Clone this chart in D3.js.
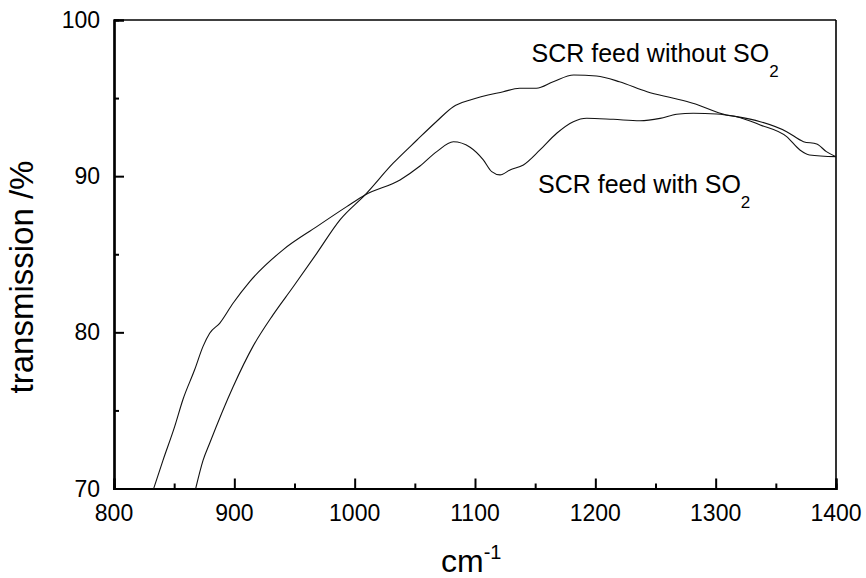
<!DOCTYPE html>
<html>
<head>
<meta charset="utf-8">
<script src="https://cdn.jsdelivr.net/npm/d3@7/dist/d3.min.js"></script>
<style>
  html, body { margin: 0; padding: 0; background: #fff; }
  svg { display: block; font-family: "Liberation Sans", Arial, Helvetica, sans-serif; }
</style>
</head>
<body>
<svg id="chart" width="866" height="578"></svg>
<script>
// IR transmission spectra (wavenumber in cm^-1, transmission in %)
const wavenumberNoSO2 = [867.9, 874, 879.5, 898.9, 915.5, 932, 948.8, 968.5, 987.8, 1008.6, 1032, 1051.6, 1068, 1082, 1096, 1123.5, 1137, 1151, 1165, 1182, 1201, 1220, 1243, 1265, 1281, 1309, 1317.5, 1337, 1359, 1370, 1378, 1400];
const transmissionNoSO2 = [70.0, 71.8, 72.9, 76.5, 79.1, 81.1, 82.9, 85.06, 87.2, 88.8, 90.83, 92.3, 93.5, 94.45, 94.88, 95.41, 95.63, 95.63, 96.05, 96.48, 96.41, 96.05, 95.41, 94.99, 94.67, 93.92, 93.81, 93.28, 92.53, 91.68, 91.36, 91.25];

const wavenumberSO2 = [833, 840.7, 850.4, 857.3, 867, 874, 879.5, 887.8, 898.9, 912.8, 940.7, 968.5, 993.4, 1008.6, 1037.7, 1054.3, 1068.2, 1082, 1095.9, 1106.9, 1113.9, 1120.8, 1129.1, 1140.2, 1154, 1167.9, 1181.7, 1192.8, 1215, 1237.1, 1253.8, 1267.6, 1281.4, 1300.8, 1317.5, 1337, 1359, 1373, 1384, 1392, 1400];
const transmissionSO2 = [70.0, 71.8, 73.96, 75.7, 77.6, 79.1, 79.94, 80.58, 81.86, 83.25, 85.3, 86.77, 88.05, 88.8, 89.76, 90.65, 91.57, 92.2, 91.85, 91.04, 90.29, 90.08, 90.4, 90.72, 91.68, 92.75, 93.49, 93.71, 93.64, 93.55, 93.7, 93.96, 94.03, 93.98, 93.81, 93.49, 92.85, 92.21, 92.06, 91.57, 91.25];

const xMajorTicks = [800, 900, 1000, 1100, 1200, 1300, 1400];
const xMinorTicks = [850, 950, 1050, 1150, 1250, 1350];
const yMajorTicks = [70, 80, 90, 100];
const yMinorTicks = [75, 85, 95];

const svg = d3.select("#chart");
const plotLeft = 114, plotRight = 836, plotTop = 20, plotBottom = 488.5;

const x = d3.scaleLinear().domain([800, 1400]).range([plotLeft, plotRight]);
const y = d3.scaleLinear().domain([70, 100]).range([plotBottom, plotTop]);

// frame: heavy left/bottom axes, thinner top/right border
svg.append("line").attr("x1", plotLeft).attr("x2", plotRight).attr("y1", plotTop).attr("y2", plotTop)
  .attr("stroke", "#000").attr("stroke-width", 1.6);
svg.append("line").attr("x1", plotRight).attr("x2", plotRight).attr("y1", plotTop).attr("y2", plotBottom)
  .attr("stroke", "#000").attr("stroke-width", 1.6);

// bottom axis, ticks pointing inward
const gx = svg.append("g").attr("transform", `translate(0,${plotBottom})`);
gx.call(d3.axisTop(x).tickValues(xMinorTicks).tickSize(5).tickFormat(""));
gx.append("g").call(d3.axisTop(x).tickValues(xMajorTicks).tickSize(10).tickFormat(""));
gx.selectAll(".domain").attr("stroke-width", 2.2).attr("stroke", "#000");
gx.selectAll(".tick line").attr("stroke-width", 2).attr("stroke", "#000");
gx.selectAll(".xlab").data(xMajorTicks).join("text")
  .attr("class", "xlab")
  .attr("x", d => x(d)).attr("y", 32)
  .attr("text-anchor", "middle").attr("font-size", 23).attr("fill", "#000")
  .text(d => d);

// left axis, ticks pointing inward
const gy = svg.append("g").attr("transform", `translate(${plotLeft},0)`);
gy.call(d3.axisRight(y).tickValues(yMinorTicks).tickSize(5).tickFormat(""));
gy.append("g").call(d3.axisRight(y).tickValues(yMajorTicks).tickSize(10).tickFormat(""));
gy.selectAll(".domain").attr("stroke-width", 2.2).attr("stroke", "#000");
gy.selectAll(".tick line").attr("stroke-width", 2).attr("stroke", "#000");
gy.selectAll(".ylab").data(yMajorTicks).join("text")
  .attr("class", "ylab")
  .attr("x", -14).attr("y", d => y(d) + 8)
  .attr("text-anchor", "end").attr("font-size", 23).attr("fill", "#000")
  .text(d => d);

// spectra
const line = d3.line().x(d => x(d[0])).y(d => y(d[1])).curve(d3.curveMonotoneX);
const plot = svg.append("g");
plot.append("path").datum(d3.zip(wavenumberNoSO2, transmissionNoSO2))
  .attr("d", line).attr("fill", "none").attr("stroke", "#111").attr("stroke-width", 1.1);
plot.append("path").datum(d3.zip(wavenumberSO2, transmissionSO2))
  .attr("d", line).attr("fill", "none").attr("stroke", "#111").attr("stroke-width", 1.1);

// series annotations with subscripts
function label(px, py, main, sub) {
  const t = svg.append("text").attr("x", px).attr("y", py)
    .attr("font-size", 25).attr("fill", "#000");
  t.append("tspan").text(main);
  t.append("tspan").attr("font-size", 17).attr("dy", 15).text(sub);
}
label(531.5, 61.5, "SCR feed without SO", "2");
label(538, 193, "SCR feed with SO", "2");

// axis titles
svg.append("text")
  .attr("transform", "translate(33,277) rotate(-90)")
  .attr("text-anchor", "middle").attr("font-size", 33).attr("fill", "#000")
  .text("transmission /%");

const xt = svg.append("text").attr("x", 441).attr("y", 572)
  .attr("font-size", 32).attr("fill", "#000");
xt.append("tspan").text("cm");
xt.append("tspan").attr("font-size", 20).attr("dy", -13).text("-1");
</script>
</body>
</html>
